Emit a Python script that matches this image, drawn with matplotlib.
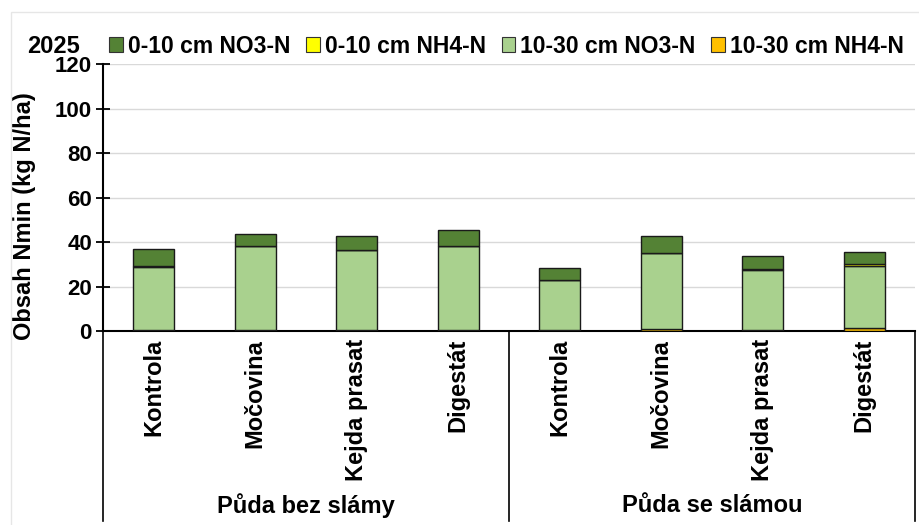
import matplotlib
matplotlib.use("Agg")
import matplotlib.pyplot as plt
from matplotlib.patches import Patch, Rectangle
import matplotlib.transforms as mtransforms

plt.rcParams['font.family'] = ['Liberation Sans', 'DejaVu Sans']
plt.rcParams['font.weight'] = 'bold'

categories = ["Kontrola", "Močovina", "Kejda prasat", "Digestát",
              "Kontrola", "Močovina", "Kejda prasat", "Digestát"]
groups = ["Půda bez slámy", "Půda se slámou"]
year_label = "2025"

nh4_10_30 = [0.3, 0.5, 0.4, 0.4, 0.4, 1.0, 0.5, 1.5]
no3_10_30 = [28.6, 37.7, 35.9, 37.8, 22.5, 34.0, 27.1, 27.9]
nh4_0_10 = [0.1, 0.1, 0.1, 0.1, 0.1, 0.1, 0.1, 0.7]
no3_0_10 = [8.0, 5.2, 6.2, 6.9, 5.4, 7.6, 6.0, 5.5]

series = [
    ("10-30 cm NH4-N", nh4_10_30, "#FFC000"),
    ("10-30 cm NO3-N", no3_10_30, "#A9D18E"),
    ("0-10 cm NH4-N", nh4_0_10, "#FFFF00"),
    ("0-10 cm NO3-N", no3_0_10, "#548235"),
]
legend_order = ["0-10 cm NO3-N", "0-10 cm NH4-N", "10-30 cm NO3-N", "10-30 cm NH4-N"]

fig = plt.figure(figsize=(9.2, 5.25), dpi=100)
ax = fig.add_axes([0.112, 0.3695, 0.8826, 0.5085])

x = list(range(len(categories)))
bottom = [0.0] * len(categories)
colors = {}
for name, vals, col in series:
    ax.bar(x, vals, width=0.4, bottom=bottom, color=col, edgecolor="#1a1a1a",
           linewidth=1.0, zorder=3)
    bottom = [b + v for b, v in zip(bottom, vals)]
    colors[name] = col

ax.set_xlim(-0.5, len(categories) - 0.5)
ax.set_ylim(0, 120)
ax.set_yticks(range(0, 121, 20))
ax.yaxis.grid(True, color="#d9d9d9", linewidth=1.0, zorder=0)
ax.tick_params(axis='y', direction='inout', length=10, width=1.3, labelsize=16, pad=3)
ax.tick_params(axis='x', length=0, labelbottom=False)
for s in ["top", "right"]:
    ax.spines[s].set_visible(False)
ax.spines["left"].set_linewidth(1.5)
ax.spines["bottom"].set_linewidth(1.5)
ax.set_ylabel("Obsah Nmin (kg N/ha)", fontsize=17, fontweight='bold', labelpad=4)
ax.yaxis.set_label_coords(-0.082, 0.43)

# category labels
trans = mtransforms.blended_transform_factory(ax.transData, ax.transAxes)
for xi, c in zip(x, categories):
    ax.text(xi, -0.03, c, rotation=90, ha='center', va='top', fontsize=17,
            fontweight='bold', transform=trans)

# group separators and labels
n_per = len(categories) // len(groups)
for k in range(len(groups) + 1):
    xs = k * n_per - 0.5
    ax.plot([xs, xs], [0, -0.71], transform=trans, color='black', lw=1.2,
            clip_on=False)
for k, g in enumerate(groups):
    xc = k * n_per + (n_per - 1) / 2
    ax.text(xc, -0.655, g, ha='center', va='center', fontsize=17,
            fontweight='bold', transform=trans)

# legend
handles = [Patch(facecolor=colors[n], edgecolor="#333333", linewidth=0.8, label=n)
           for n in legend_order]
fig.legend(handles=handles, loc='center left', bbox_to_anchor=(0.119, 0.912),
           ncol=4, frameon=False, fontsize=16.5, handlelength=0.6, handleheight=0.6,
           handletextpad=0.2, columnspacing=0.7, borderaxespad=0, borderpad=0)
fig.text(0.029, 0.912, year_label, fontsize=17, fontweight='bold', va='center', ha='left')

# light outer frame
fig.patches.append(Rectangle((0.012, -0.01), 0.99, 0.988, transform=fig.transFigure,
                             fill=False, edgecolor="#e6e6e6", linewidth=1.0))

fig.savefig("out.png", dpi=100)
